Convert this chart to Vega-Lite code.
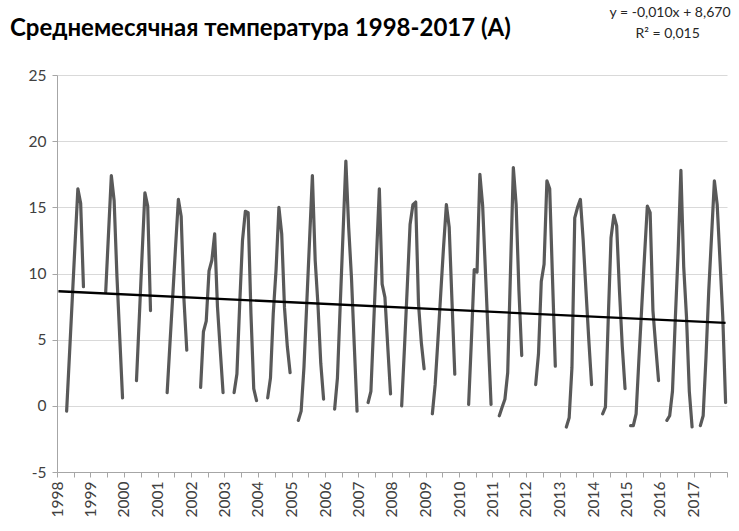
{
  "$schema": "https://vega.github.io/schema/vega-lite/v6.json",
  "width": 670,
  "height": 397,
  "autosize": {"type": "none"},
  "padding": {"left": 57, "top": 75, "right": 12, "bottom": 59},
  "background": "white",
  "config": {
    "font": "Lato",
    "view": {"stroke": null},
    "axis": {"labelFont": "Lato", "labelFontSize": 15.5, "labelColor": "#404040", "domainColor": "#a6a6a6", "tickColor": "#a6a6a6", "tickSize": 5, "title": null}
  },
  "datasets": {
    "temp": [
      {"date": "1998-04", "t": -0.4}, {"date": "1998-05", "t": 3.8}, {"date": "1998-06", "t": 8.0}, {"date": "1998-07", "t": 12.2}, {"date": "1998-08", "t": 16.4}, {"date": "1998-09", "t": 15.3}, {"date": "1998-10", "t": 9.0},
      {"date": "1999-01", "t": null},
      {"date": "1999-06", "t": 8.6}, {"date": "1999-07", "t": 13.0}, {"date": "1999-08", "t": 17.4}, {"date": "1999-09", "t": 15.5}, {"date": "1999-10", "t": 9.8}, {"date": "1999-11", "t": 5.2}, {"date": "1999-12", "t": 0.6},
      {"date": "2000-02", "t": null},
      {"date": "2000-05", "t": 1.9}, {"date": "2000-06", "t": 6.6}, {"date": "2000-07", "t": 11.4}, {"date": "2000-08", "t": 16.1}, {"date": "2000-09", "t": 15.1}, {"date": "2000-10", "t": 7.2},
      {"date": "2001-01", "t": null},
      {"date": "2001-04", "t": 1.0}, {"date": "2001-05", "t": 4.7}, {"date": "2001-06", "t": 8.3}, {"date": "2001-07", "t": 12.0}, {"date": "2001-08", "t": 15.6}, {"date": "2001-09", "t": 14.3}, {"date": "2001-10", "t": 8.0}, {"date": "2001-11", "t": 4.2},
      {"date": "2002-01", "t": null},
      {"date": "2002-04", "t": 1.4}, {"date": "2002-05", "t": 5.6}, {"date": "2002-06", "t": 6.4}, {"date": "2002-07", "t": 10.2}, {"date": "2002-08", "t": 11.0}, {"date": "2002-09", "t": 13.0}, {"date": "2002-10", "t": 7.5}, {"date": "2002-11", "t": 4.2}, {"date": "2002-12", "t": 1.0},
      {"date": "2003-02", "t": null},
      {"date": "2003-04", "t": 1.0}, {"date": "2003-05", "t": 2.4}, {"date": "2003-06", "t": 7.7}, {"date": "2003-07", "t": 12.5}, {"date": "2003-08", "t": 14.7}, {"date": "2003-09", "t": 14.6}, {"date": "2003-10", "t": 7.0}, {"date": "2003-11", "t": 1.3}, {"date": "2003-12", "t": 0.4},
      {"date": "2004-02", "t": null},
      {"date": "2004-04", "t": 0.6}, {"date": "2004-05", "t": 2.1}, {"date": "2004-06", "t": 7.0}, {"date": "2004-07", "t": 10.3}, {"date": "2004-08", "t": 15.0}, {"date": "2004-09", "t": 13.0}, {"date": "2004-10", "t": 7.4}, {"date": "2004-11", "t": 4.5}, {"date": "2004-12", "t": 2.5},
      {"date": "2005-01", "t": null},
      {"date": "2005-03", "t": -1.1}, {"date": "2005-04", "t": -0.4}, {"date": "2005-05", "t": 2.9}, {"date": "2005-06", "t": 7.7}, {"date": "2005-07", "t": 12.5}, {"date": "2005-08", "t": 17.4}, {"date": "2005-09", "t": 11.0}, {"date": "2005-10", "t": 7.6}, {"date": "2005-11", "t": 3.2}, {"date": "2005-12", "t": 0.5},
      {"date": "2006-02", "t": null},
      {"date": "2006-04", "t": -0.25}, {"date": "2006-05", "t": 2.1}, {"date": "2006-06", "t": 7.6}, {"date": "2006-07", "t": 13.0}, {"date": "2006-08", "t": 18.5}, {"date": "2006-09", "t": 13.5}, {"date": "2006-10", "t": 9.7}, {"date": "2006-11", "t": 4.6}, {"date": "2006-12", "t": -0.4},
      {"date": "2007-02", "t": null},
      {"date": "2007-04", "t": 0.25}, {"date": "2007-05", "t": 1.1}, {"date": "2007-06", "t": 6.2}, {"date": "2007-07", "t": 11.3}, {"date": "2007-08", "t": 16.4}, {"date": "2007-09", "t": 9.2}, {"date": "2007-10", "t": 8.2}, {"date": "2007-11", "t": 4.5}, {"date": "2007-12", "t": 0.9},
      {"date": "2008-02", "t": null},
      {"date": "2008-04", "t": 0.0}, {"date": "2008-05", "t": 4.4}, {"date": "2008-06", "t": 9.0}, {"date": "2008-07", "t": 13.7}, {"date": "2008-08", "t": 15.2}, {"date": "2008-09", "t": 15.4}, {"date": "2008-10", "t": 7.7}, {"date": "2008-11", "t": 4.8}, {"date": "2008-12", "t": 2.8},
      {"date": "2009-01", "t": null},
      {"date": "2009-03", "t": -0.6}, {"date": "2009-04", "t": 1.6}, {"date": "2009-05", "t": 5.0}, {"date": "2009-06", "t": 8.5}, {"date": "2009-07", "t": 12.0}, {"date": "2009-08", "t": 15.2}, {"date": "2009-09", "t": 13.5}, {"date": "2009-10", "t": 7.9}, {"date": "2009-11", "t": 2.4},
      {"date": "2010-01", "t": null},
      {"date": "2010-04", "t": 0.1}, {"date": "2010-05", "t": 5.0}, {"date": "2010-06", "t": 10.3}, {"date": "2010-07", "t": 10.1}, {"date": "2010-08", "t": 17.5}, {"date": "2010-09", "t": 15.1}, {"date": "2010-10", "t": 10.1}, {"date": "2010-11", "t": 5.1}, {"date": "2010-12", "t": 0.1},
      {"date": "2011-01", "t": null},
      {"date": "2011-03", "t": -0.75}, {"date": "2011-04", "t": -0.1}, {"date": "2011-05", "t": 0.5}, {"date": "2011-06", "t": 2.5}, {"date": "2011-07", "t": 10.2}, {"date": "2011-08", "t": 18.0}, {"date": "2011-09", "t": 15.2}, {"date": "2011-10", "t": 8.7}, {"date": "2011-11", "t": 3.8},
      {"date": "2012-01", "t": null},
      {"date": "2012-04", "t": 1.6}, {"date": "2012-05", "t": 3.9}, {"date": "2012-06", "t": 9.4}, {"date": "2012-07", "t": 10.7}, {"date": "2012-08", "t": 17.0}, {"date": "2012-09", "t": 16.4}, {"date": "2012-10", "t": 9.6}, {"date": "2012-11", "t": 3.0},
      {"date": "2013-01", "t": null},
      {"date": "2013-03", "t": -1.6}, {"date": "2013-04", "t": -0.9}, {"date": "2013-05", "t": 2.9}, {"date": "2013-06", "t": 14.2}, {"date": "2013-07", "t": 15.0}, {"date": "2013-08", "t": 15.6}, {"date": "2013-09", "t": 12.5}, {"date": "2013-10", "t": 8.7}, {"date": "2013-11", "t": 5.0}, {"date": "2013-12", "t": 1.6},
      {"date": "2014-01", "t": null},
      {"date": "2014-04", "t": -0.6}, {"date": "2014-05", "t": -0.1}, {"date": "2014-06", "t": 6.5}, {"date": "2014-07", "t": 12.7}, {"date": "2014-08", "t": 14.4}, {"date": "2014-09", "t": 13.6}, {"date": "2014-10", "t": 8.7}, {"date": "2014-11", "t": 4.5}, {"date": "2014-12", "t": 1.3},
      {"date": "2015-01", "t": null},
      {"date": "2015-02", "t": -1.5}, {"date": "2015-03", "t": -1.5}, {"date": "2015-04", "t": -0.6}, {"date": "2015-05", "t": 3.5}, {"date": "2015-06", "t": 7.4}, {"date": "2015-07", "t": 11.3}, {"date": "2015-08", "t": 15.1}, {"date": "2015-09", "t": 14.6}, {"date": "2015-10", "t": 7.2}, {"date": "2015-11", "t": 4.5}, {"date": "2015-12", "t": 1.9},
      {"date": "2016-01", "t": null},
      {"date": "2016-03", "t": -1.1}, {"date": "2016-04", "t": -0.75}, {"date": "2016-05", "t": 1.1}, {"date": "2016-06", "t": 6.5}, {"date": "2016-07", "t": 11.5}, {"date": "2016-08", "t": 17.8}, {"date": "2016-09", "t": 10.5}, {"date": "2016-10", "t": 6.7}, {"date": "2016-11", "t": 1.1}, {"date": "2016-12", "t": -1.6},
      {"date": "2017-01", "t": null},
      {"date": "2017-03", "t": -1.5}, {"date": "2017-04", "t": -0.75}, {"date": "2017-05", "t": 3.6}, {"date": "2017-06", "t": 8.7}, {"date": "2017-07", "t": 12.8}, {"date": "2017-08", "t": 17.0}, {"date": "2017-09", "t": 15.2}, {"date": "2017-10", "t": 11.0}, {"date": "2017-11", "t": 6.7}, {"date": "2017-12", "t": 0.25}
    ],
    "trend": [
      {"date": "1998-01", "trend": 8.66},
      {"date": "2017-12", "trend": 6.27}
    ],
    "notes": [
      {"title": "Среднемесячная температура 1998-2017 (A)", "eq": "y = -0,010x + 8,670", "r2": "R² = 0,015"}
    ]
  },
  "layer": [
    {
      "data": {"name": "temp"},
      "mark": {"type": "line", "color": "#595959", "strokeWidth": 3.2, "strokeJoin": "round", "strokeCap": "round"},
      "encoding": {
        "x": {
          "field": "date", "type": "temporal", "timeUnit": "utcyearmonth", "bandPosition": 0.5,
          "scale": {"type": "utc", "domain": [{"year": 1998, "month": 1, "date": 1, "utc": true}, {"year": 2018, "month": 1, "date": 1, "utc": true}]},
          "axis": {"tickCount": {"interval": "month", "step": 6}, "labelExpr": "utcmonth(datum.value) == 0 && utcyear(datum.value) < 2018 ? utcFormat(datum.value, '%Y') : ''", "labelAngle": -90, "labelPadding": 4, "grid": false, "labelFlush": false, "labelOverlap": false}
        },
        "y": {
          "field": "t", "type": "quantitative",
          "scale": {"domain": [-5, 25], "nice": false, "zero": false},
          "axis": {"values": [-5, 0, 5, 10, 15, 20, 25], "labelExpr": "replace(datum.label, '\u2212', '-')", "grid": true, "gridColor": "#d9d9d9", "labelPadding": 6}
        }
      }
    },
    {
      "data": {"name": "trend"},
      "mark": {"type": "line", "color": "#000000", "strokeWidth": 2.3},
      "encoding": {
        "x": {"field": "date", "type": "temporal", "timeUnit": "utcyearmonth", "bandPosition": 0.5},
        "y": {"field": "trend", "type": "quantitative"}
      }
    },
    {
      "data": {"name": "notes"},
      "mark": {"type": "text", "font": "Lato", "fontSize": 24, "fontWeight": "bold", "color": "#000000", "align": "left", "baseline": "middle", "dx": -47, "clip": false},
      "encoding": {
        "x": {"datum": {"year": 1998, "month": 1, "date": 1, "utc": true}, "type": "temporal"},
        "y": {"datum": 28.5, "type": "quantitative"},
        "text": {"field": "title"}
      }
    },
    {
      "data": {"name": "notes"},
      "mark": {"type": "text", "font": "Lato", "fontSize": 14, "color": "#262626", "align": "center", "baseline": "middle", "clip": false},
      "encoding": {
        "x": {"datum": {"year": 2016, "month": 4, "date": 20, "utc": true}, "type": "temporal"},
        "y": {"datum": 29.7, "type": "quantitative"},
        "text": {"field": "eq"}
      }
    },
    {
      "data": {"name": "notes"},
      "mark": {"type": "text", "font": "Lato", "fontSize": 14, "color": "#262626", "align": "center", "baseline": "middle", "clip": false},
      "encoding": {
        "x": {"datum": {"year": 2016, "month": 3, "date": 25, "utc": true}, "type": "temporal"},
        "y": {"datum": 28.1, "type": "quantitative"},
        "text": {"field": "r2"}
      }
    }
  ]
}
